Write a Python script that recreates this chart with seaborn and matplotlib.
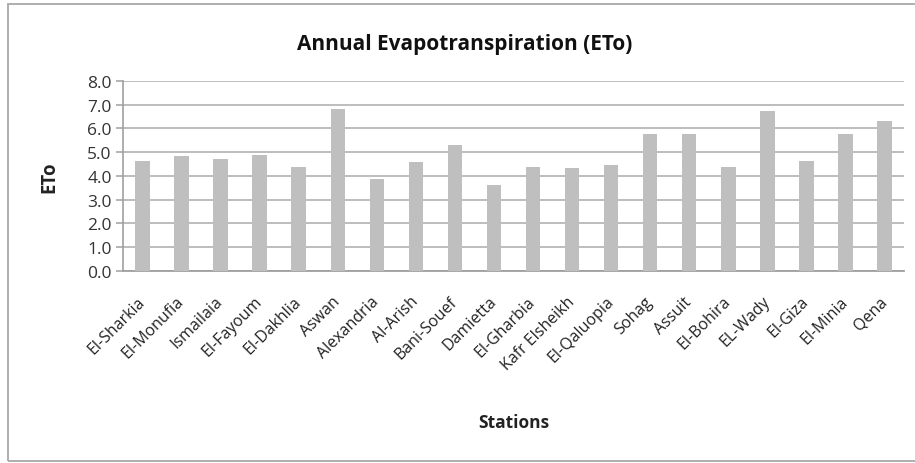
import matplotlib
matplotlib.use("Agg")
import matplotlib.pyplot as plt
from matplotlib.patches import Rectangle
import seaborn as sns
import pandas as pd

stations = ["El-Sharkia", "El-Monufia", "Ismailaia", "El-Fayoum", "El-Dakhlia",
            "Aswan", "Alexandria", "Al-Arish", "Bani-Souef", "Damietta",
            "El-Gharbia", "Kafr Elsheikh", "El-Qaluopia", "Sohag", "Assuit",
            "El-Bohira", "EL-Wady", "El-Giza", "El-Minia", "Qena"]
eto = [4.63, 4.83, 4.73, 4.90, 4.38, 6.82, 3.89, 4.59, 5.31, 3.61,
       4.38, 4.32, 4.46, 5.75, 5.75, 4.38, 6.74, 4.65, 5.75, 6.30]
yticks = [0.0, 1.0, 2.0, 3.0, 4.0, 5.0, 6.0, 7.0, 8.0]

df = pd.DataFrame({"Stations": stations, "ETo": eto})

sns.set_theme(style="white")
plt.rcParams["font.family"] = ["Open Sans", "DejaVu Sans"]

fig = plt.figure(figsize=(9.15, 4.64), dpi=100)
ax = fig.add_axes([0.1344, 0.4138, 0.8536, 0.4095])

sns.barplot(data=df, x="Stations", y="ETo", color="#BFBFBF", saturation=1,
            width=0.37, linewidth=0, ax=ax, zorder=3)

ax.set_ylim(0, 8)
ax.set_xlim(-0.5, len(stations) - 0.5)
ax.set_yticks(yticks)
ax.set_yticklabels([f"{v:.1f}" for v in yticks], fontsize=12.5, color="#333333")
ax.yaxis.grid(True, color="#B8B8B8", linewidth=1.3, zorder=0)
ax.set_axisbelow(True)

for side in ["top", "right"]:
    ax.spines[side].set_visible(False)
ax.spines["left"].set_color("#A0A0A0")
ax.spines["left"].set_linewidth(1.2)
ax.spines["bottom"].set_color("#A0A0A0")
ax.spines["bottom"].set_linewidth(1.3)

ax.tick_params(axis="y", which="both", left=True, length=5, width=1.1,
               color="#A0A0A0", pad=3)
ax.tick_params(axis="x", bottom=False, pad=14)
ax.set_xticks(range(len(stations)))
ax.set_xticklabels(stations, rotation=45, ha="right", va="center",
                   rotation_mode="anchor", fontsize=11.5, color="#222222")

ax.set_xlabel("Stations", fontsize=12.5, fontweight="bold", color="#222222")
ax.set_ylabel("ETo", fontsize=13.5, fontweight="bold", color="#222222")
ax.xaxis.set_label_coords(0.5006, -0.795)
ax.yaxis.set_label_coords(-0.0947, 0.5)
ax.xaxis.label.set_va("center")
ax.yaxis.label.set_va("center")

fig.text(0.508, 0.905, "Annual Evapotranspiration (ETo)", ha="center",
         va="center", fontsize=15, fontweight="bold", color="#111111")

# outer chart frame
fig.patches.append(Rectangle((8 / 915, 2 / 464), 1.2, 457 / 464,
                             transform=fig.transFigure, fill=False,
                             edgecolor="#A8A8A8", linewidth=1.3))

fig.savefig("out.png", dpi=100, facecolor="white")
